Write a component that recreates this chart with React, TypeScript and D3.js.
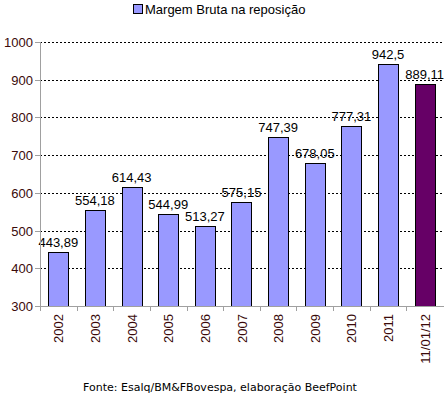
import { useEffect, useRef } from "react";
import * as d3 from "d3";

const CATEGORIES = ["2002", "2003", "2004", "2005", "2006", "2007", "2008", "2009", "2010", "2011", "11/01/12"];
const VALUES = [443.89, 554.18, 614.43, 544.99, 513.27, 575.15, 747.39, 678.05, 777.31, 942.5, 889.11];
const LABELS = ["443,89", "554,18", "614,43", "544,99", "513,27", "575,15", "747,39", "678,05", "777,31", "942,5", "889,11"];
const Y_TICKS = [300, 400, 500, 600, 700, 800, 900, 1000];

const W = 444;
const H = 398;
const LEFT = 40;
const RIGHT = 443;
const TOP = 42;
const BOTTOM = 306;
const LABEL_COLOR = "#3a0a0a";

export default function App() {
  const ref = useRef<SVGSVGElement>(null);

  useEffect(() => {
    if (!ref.current) return;
    const svg = d3.select(ref.current);
    svg.selectAll("*").remove();

    const x = d3.scaleBand<string>().domain(CATEGORIES).range([LEFT, RIGHT]).paddingInner(0.45).paddingOuter(0.225);
    const y = d3.scaleLinear().domain([300, 1000]).range([BOTTOM, TOP]);
    const step = x.step();

    // gridlines
    Y_TICKS.slice(1).forEach((t) => {
      svg.append("line")
        .attr("x1", LEFT).attr("x2", W)
        .attr("y1", Math.round(y(t)) + 0.5).attr("y2", Math.round(y(t)) + 0.5)
        .attr("stroke", "#000").attr("stroke-dasharray", "2,2");
    });

    // bars
    CATEGORIES.forEach((c, i) => {
      const last = i === CATEGORIES.length - 1;
      svg.append("rect")
        .attr("x", Math.round(x(c)!) + 0.5)
        .attr("y", Math.round(y(VALUES[i])) + 0.5)
        .attr("width", Math.round(x.bandwidth()))
        .attr("height", Math.round(BOTTOM - y(VALUES[i])))
        .attr("fill", last ? "#660066" : "#9999ff")
        .attr("stroke", "#000");
      svg.append("text")
        .attr("x", x(c)! + x.bandwidth() / 2)
        .attr("y", y(VALUES[i]) - 5)
        .attr("text-anchor", "middle")
        .attr("font-family", "Liberation Sans, Arial, sans-serif")
        .attr("font-size", 13)
        .attr("fill", "#000")
        .text(LABELS[i]);
    });

    // axes
    svg.append("line").attr("x1", LEFT + 0.5).attr("x2", LEFT + 0.5).attr("y1", TOP).attr("y2", BOTTOM)
      .attr("stroke", "#a0a0a0");
    svg.append("line").attr("x1", LEFT).attr("x2", W).attr("y1", BOTTOM + 0.5).attr("y2", BOTTOM + 0.5)
      .attr("stroke", "#a0a0a0");

    Y_TICKS.forEach((t) => {
      const yy = Math.round(y(t)) + 0.5;
      svg.append("line").attr("x1", LEFT - 5).attr("x2", LEFT).attr("y1", yy).attr("y2", yy).attr("stroke", "#a0a0a0");
      svg.append("text")
        .attr("x", LEFT - 7).attr("y", yy).attr("dy", "0.35em")
        .attr("text-anchor", "end")
        .attr("font-family", "Liberation Sans, Arial, sans-serif")
        .attr("font-size", 13)
        .attr("fill", LABEL_COLOR)
        .text(t);
    });

    CATEGORIES.forEach((c, i) => {
      const xx = Math.round(LEFT + step * i) + 0.5;
      svg.append("line").attr("x1", xx).attr("x2", xx).attr("y1", BOTTOM).attr("y2", BOTTOM + 5).attr("stroke", "#a0a0a0");
      const cx = x(c)! + x.bandwidth() / 2;
      svg.append("text")
        .attr("transform", `translate(${cx + 5},${BOTTOM + 8}) rotate(-90)`)
        .attr("text-anchor", "end")
        .attr("font-family", "Liberation Sans, Arial, sans-serif")
        .attr("font-size", 13)
        .attr("fill", LABEL_COLOR)
        .text(c);
    });

    // legend
    svg.append("rect").attr("x", 133.5).attr("y", 4.5).attr("width", 9).attr("height", 9)
      .attr("fill", "#9999ff").attr("stroke", "#000");
    svg.append("text")
      .attr("x", 145).attr("y", 9).attr("dy", "0.35em")
      .attr("font-family", "Liberation Sans, Arial, sans-serif")
      .attr("font-size", 13)
      .attr("fill", "#000")
      .text("Margem Bruta na reposição");

    // footer
    svg.append("text")
      .attr("x", 220).attr("y", 391)
      .attr("text-anchor", "middle")
      .attr("font-family", "DejaVu Sans, Verdana, sans-serif")
      .attr("font-size", 11)
      .attr("fill", "#000")
      .text("Fonte: Esalq/BM&FBovespa, elaboração BeefPoint");
  }, []);

  return (
    <svg ref={ref} width={W} height={H} viewBox={`0 0 ${W} ${H}`}
      style={{ position: "absolute", left: 0, top: 0, background: "#fff" }} />
  );
}
